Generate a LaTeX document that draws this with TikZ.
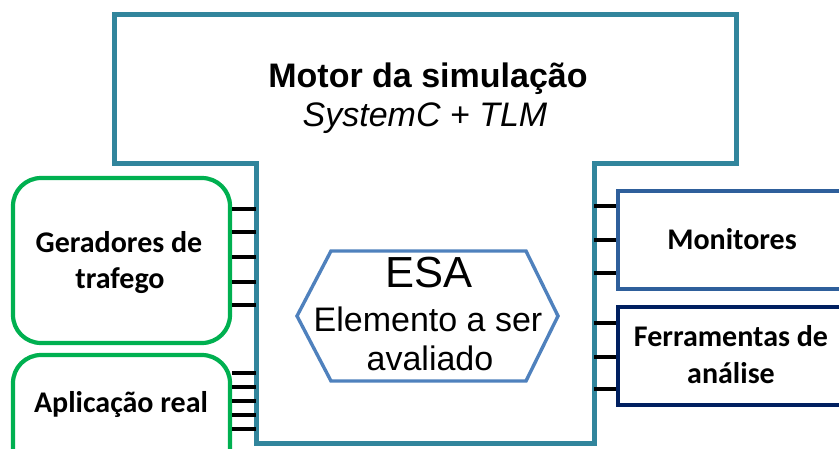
\documentclass[tikz,border=0pt]{standalone}
\usepackage{fontspec}
\usetikzlibrary{fit}
\setmainfont{Liberation Sans}
\newfontfamily\calfont{Carlito}
\definecolor{teal1}{HTML}{31859C}
\definecolor{green1}{HTML}{00B050}
\definecolor{blue1}{HTML}{2E5F9B}
\definecolor{navy1}{HTML}{002060}
\definecolor{hexblue}{HTML}{4F81BD}
\tikzset{
  tshape/.style={draw=teal1, line width=5pt, line join=miter},
  greenbox/.style={draw=green1, line width=4.2pt, rounded corners=28pt},
  monbox/.style={draw=blue1, line width=3.6pt},
  ferbox/.style={draw=navy1, line width=4pt},
  hexbox/.style={draw=hexblue, line width=3.4pt, line join=miter},
  tick/.style={draw=black, line width=3.6pt},
  bigtxt/.style={font=\fontsize{34}{40}\selectfont, anchor=base, inner sep=0pt},
  esatxt/.style={font=\fontsize{43.5}{50}\selectfont, anchor=base, inner sep=0pt},
  caltxt/.style={font=\calfont\bfseries\fontsize{30}{36}\selectfont, anchor=base, inner sep=0pt},
}
\begin{document}
\begin{tikzpicture}[x=1pt, y=-1pt]
\useasboundingbox (0,0) rectangle (839,448);
\clip (0,0) rectangle (839,448);
% simulation engine T-shape
\draw[tshape] (114,14) -- (736,14) -- (736,163) -- (594,163) -- (594,443)
  -- (256,443) -- (256,163) -- (114,163) -- cycle;
\path (256,163) coordinate (stemtl) (594,443) coordinate (stembr);
\node[inner sep=0pt, outer sep=0pt, fit=(stemtl)(stembr)] (stem) {};
% side boxes
\node[greenbox, minimum width=217pt, minimum height=165pt, inner sep=0pt] (gera) at (121.5,260.5) {};
\node[greenbox, minimum width=217pt, minimum height=130pt, inner sep=0pt] (apli) at (121.5,420) {};
\node[monbox, minimum width=240pt, minimum height=98pt, inner sep=0pt] (moni) at (738,240) {};
\node[ferbox, minimum width=240pt, minimum height=98pt, inner sep=0pt] (ferr) at (738,356) {};
% ticks
\foreach \yy in {209,232,257,282,305} \draw[tick] (gera.east |- 0,\yy) -- (stem.west |- 0,\yy);
\foreach \yy in {373,387,401,415,429} \draw[tick] (apli.east |- 0,\yy) -- (stem.west |- 0,\yy);
\foreach \yy in {206,240,273} \draw[tick] (stem.east |- 0,\yy) -- (moni.west |- 0,\yy);
\foreach \yy in {323,357,389} \draw[tick] (stem.east |- 0,\yy) -- (ferr.west |- 0,\yy);
% hexagon
\draw[hexbox] (297,316) -- (331,251) -- (526,251) -- (558,316) -- (526,381) -- (331,381) -- cycle;
% texts
\node[bigtxt, font=\bfseries\fontsize{34}{40}\selectfont] (motor) at (428,87) {Motor da simulação};
\node[bigtxt, font=\itshape\fontsize{34}{40}\selectfont] (tlm) at (425,126) {SystemC + TLM};
\node[esatxt] (esa) at (429,287) {ESA};
\node[bigtxt] (elem) at (428,331) {Elemento a ser};
\node[bigtxt] (aval) at (430,370) {avaliado};
\node[caltxt] (geraA) at (119,252) {Geradores de};
\node[caltxt] (geraB) at (120,288) {trafego};
\node[caltxt] (apliT) at (121,412) {Aplicação real};
\node[caltxt] (moniT) at (732,249) {Monitores};
\node[caltxt] (ferrA) at (731,346) {Ferramentas de};
\node[caltxt] (ferrB) at (731,383) {análise};
\end{tikzpicture}
\end{document}
